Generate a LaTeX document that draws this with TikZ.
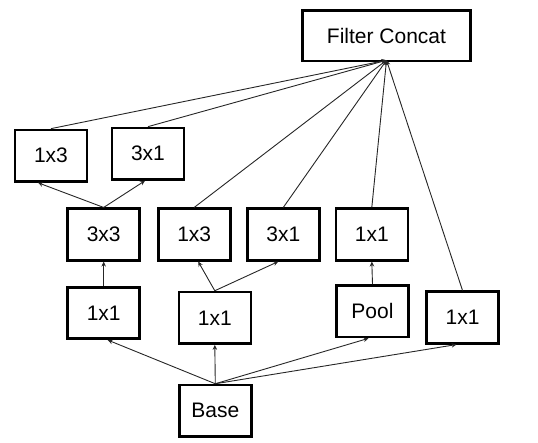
\documentclass[tikz,border=0pt]{standalone}
\usepackage{fontspec}
\setmainfont{Liberation Sans}
\usetikzlibrary{arrows.meta}
\begin{document}
\begin{tikzpicture}[x=1pt,y=-1pt,
  blk/.style={draw=black, line width=2.6pt, fill=white, minimum width=72pt, minimum height=51.5pt, inner sep=0pt, font=\fontsize{21}{24}\selectfont},
  conn/.style={draw=black!85, line width=0.9pt},
  arr/.style={conn, -{Stealth[length=5pt,width=4.5pt]}}]
\useasboundingbox (0,0) rectangle (538,443);
\node[blk, minimum width=168pt, minimum height=50.5pt] (concat) at (386.5,35.7) {Filter Concat};
\node[blk] (a13) at (51,155.7) {1x3};
\node[blk] (a31) at (148,153.7) {3x1};
\node[blk] (b33) at (103.7,234.5) {3x3};
\node[blk] (b13) at (194.2,234.5) {1x3};
\node[blk] (b31) at (283.3,234.5) {3x1};
\node[blk] (b11) at (371.8,234.5) {1x1};
\node[blk] (c11) at (103.7,313) {1x1};
\node[blk] (c11m) at (214.8,317.8) {1x1};
\node[blk] (pool) at (372.5,311.3) {Pool};
\node[blk] (c11r) at (462.5,317.5) {1x1};
\node[blk] (base) at (215.3,410.8) {Base};
% to concat
\foreach \n in {a13,a31,b13,b31,b11,c11r}
  \draw[arr] (\n.north) -- ([yshift=2pt]concat.south);
% lower arrows
\draw[arr] (b33.north) -- ([xshift=-13pt]a13.south);
\draw[arr] (b33.north) -- ([xshift=-3pt]a31.south);
\draw[arr] (c11.north) -- (b33.south);
\draw[arr] (c11m.north) -- ([xshift=4pt]b13.south);
\draw[arr] (c11m.north) -- ([xshift=-5pt]b31.south);
\draw[arr] (pool.north) -- (b11.south);
\draw[arr] (base.north) -- ([xshift=4pt]c11.south);
\draw[arr] (base.north) -- (c11m.south);
\draw[arr] (base.north) -- ([xshift=-4pt]pool.south);
\draw[arr] (base.north) -- ([xshift=-6pt]c11r.south);
\end{tikzpicture}
\end{document}
